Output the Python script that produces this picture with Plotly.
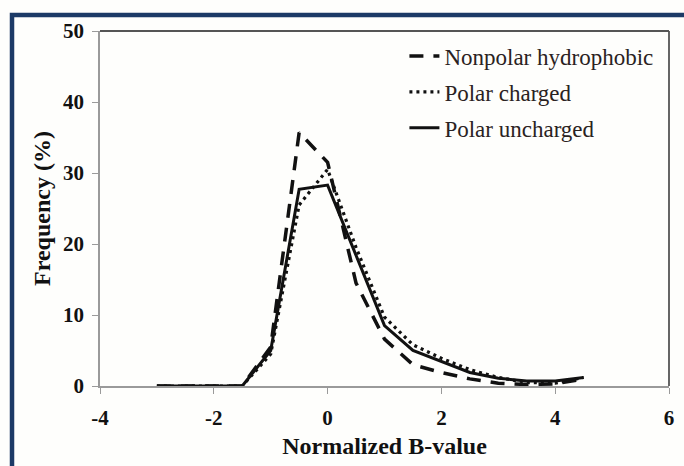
import plotly.graph_objects as go

# ---- data ----
b_values = [-3, -2.5, -2, -1.5, -1, -0.5, 0, 0.5, 1, 1.5, 2, 2.5, 3, 3.5, 4, 4.5]
nonpolar_hydrophobic = [0, 0, 0, 0, 5.5, 35.7, 31.5, 14.5, 6.6, 3.0, 1.9, 1.0, 0.4, 0.2, 0.3, 1.0]
polar_charged = [0, 0, 0, 0, 4.5, 25.5, 30.5, 19.5, 9.7, 5.8, 3.9, 2.3, 1.2, 0.5, 0.4, 1.2]
polar_uncharged = [0, 0, 0, 0, 5.0, 27.7, 28.3, 18.5, 8.5, 5.0, 3.5, 1.9, 1.1, 0.7, 0.7, 1.2]
series_names = ["Nonpolar hydrophobic", "Polar charged", "Polar uncharged"]
x_ticks = [-4, -2, 0, 2, 4, 6]
y_ticks = [0, 10, 20, 30, 40, 50]

FONT = "Liberation Serif, Times New Roman, serif"
INK = "#111111"

styles = [
    dict(width=3.5, dash="14px,10px"),
    dict(width=3.2, dash="3px,4px"),
    dict(width=3.0, dash="solid"),
]

fig = go.Figure()
for i, (name, vals) in enumerate(zip(series_names, [nonpolar_hydrophobic, polar_charged, polar_uncharged])):
    fig.add_trace(go.Scatter(
        x=b_values, y=vals, mode="lines", name=name, legendgroup=f"g{i}",
        line=dict(color=INK, width=styles[i]["width"], dash=styles[i]["dash"]),
    ))

tick_font = dict(family=FONT, size=21, color=INK, weight="bold")
title_font = dict(family=FONT, size=24, color=INK, weight="bold")

fig.update_layout(
    width=684, height=466,
    margin=dict(l=100, r=15, t=31, b=80, autoexpand=False),
    paper_bgcolor="#fefefc",
    plot_bgcolor="#fefefc",
    showlegend=True,
    legend=dict(
        x=0.535, y=0.99, xanchor="left", yanchor="top",
        bgcolor="rgba(0,0,0,0)", borderwidth=0,
        font=dict(family=FONT, size=23, color="#2a2222"),
        tracegroupgap=3,
    ),
    xaxis=dict(
        range=[-4, 6], tickvals=x_ticks, ticktext=[str(v) for v in x_ticks],
        showgrid=False, zeroline=False, automargin=False,
        showline=True, linecolor="#9a9a9a", linewidth=1.5,
        ticks="outside", ticklen=6, tickcolor="#9a9a9a", tickwidth=1.2,
        tickfont=tick_font, ticklabelstandoff=6,
        title=dict(text="Normalized B-value", font=title_font, standoff=8),
    ),
    yaxis=dict(
        range=[0, 50], tickvals=y_ticks, ticktext=[str(v) for v in y_ticks],
        showgrid=False, zeroline=False, automargin=False,
        showline=True, linecolor="#9a9a9a", linewidth=1.5,
        ticks="outside", ticklen=6, tickcolor="#9a9a9a", tickwidth=1.2,
        tickfont=tick_font, ticklabelstandoff=4,
        title=dict(text="Frequency (%)", font=title_font, standoff=6),
    ),
    shapes=[
        # top and right border of the plot box
        dict(type="line", xref="paper", yref="paper", x0=0, x1=1, y0=1, y1=1,
             line=dict(color="#555555", width=1.8), layer="below"),
        dict(type="line", xref="paper", yref="paper", x0=1, x1=1, y0=0, y1=1,
             line=dict(color="#555555", width=1.8), layer="below"),
        # dark blue outer frame
        dict(type="rect", xref="paper", yref="paper",
             x0=(12 - 100) / 569, x1=(720 - 100) / 569,
             y0=(386 - 500) / 355, y1=(386 - 15) / 355,
             line=dict(color="#1c3a66", width=4.5), fillcolor="rgba(0,0,0,0)", layer="below"),
    ],
)

fig.write_html("out.html")
